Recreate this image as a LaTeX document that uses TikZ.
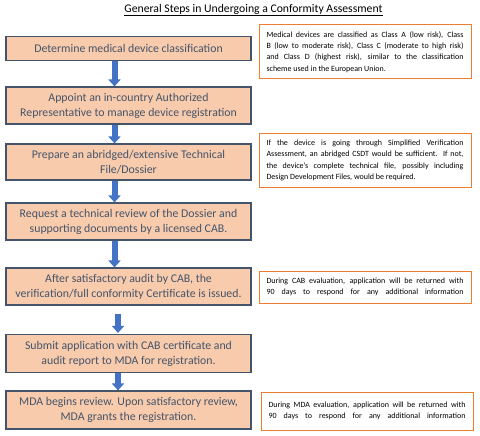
\documentclass[tikz,border=0pt]{standalone}
\usepackage{fontspec}
\setmainfont{Carlito}
\usetikzlibrary{arrows.meta}
\definecolor{peach}{HTML}{F8CBAD}
\definecolor{slate}{HTML}{44546A}
\definecolor{orng}{HTML}{ED7D31}
\definecolor{arrblue}{HTML}{4472C4}
\begin{document}
\begin{tikzpicture}[x=1pt,y=-1pt,
  stepbox/.style={draw=slate, line width=1.1pt, fill=peach, text=slate, minimum width=245pt, align=center, font=\fontsize{11.8}{15}\selectfont, inner sep=2pt},
  notebox/.style={draw=orng, line width=1pt, fill=white, text width=197pt, align=justify, font=\fontsize{8}{11.3}\selectfont, inner xsep=7pt, inner ysep=4pt, minimum width=212pt},
  flow/.style={draw=arrblue, line width=6pt, -{Triangle[width=12pt,length=7pt]}}]
\useasboundingbox (0,0) rectangle (480,436);
\node[font=\fontsize{11.7}{13}\selectfont] (title) at (253.5,10) {\underline{General Steps in Undergoing a Conformity Assessment}};
\node[stepbox, minimum height=24pt] (b1) at (128.5,48.5) {Determine medical device classification};
\node[stepbox, minimum height=37pt] (b2) at (128.5,105.5) {Appoint an in-country Authorized\\Representative to manage device registration};
\node[stepbox, minimum height=36pt] (b3) at (128.5,162) {Prepare an abridged/extensive Technical\\File/Dossier};
\node[stepbox, minimum height=37pt] (b4) at (128.5,221.5) {Request a technical review of the Dossier and\\supporting documents by a licensed CAB.};
\node[stepbox, minimum height=37pt] (b5) at (128.5,286.5) {After satisfactory audit by CAB, the\\verification/full conformity Certificate is issued.};
\node[stepbox, minimum height=38pt] (b6) at (128.5,353.5) {Submit application with CAB certificate and\\audit report to MDA for registration.};
\node[stepbox, minimum height=38pt] (b7) at (128.5,410) {MDA begins review. Upon satisfactory review,\\MDA grants the registration.};
\node[notebox, minimum height=54pt] (n1) at (365,52) {Medical devices are classified as Class A (low risk), Class\linebreak B (low to moderate risk), Class C (moderate to high risk)\linebreak and Class D (highest risk), similar to the classification\linebreak scheme used in the European Union.};
\node[notebox, minimum height=53pt] (n2) at (365,160.5) {If the device is going through Simplified Verification\linebreak Assessment, an abridged CSDT would be sufficient. If not,\linebreak the device's complete technical file, possibly including\linebreak Design Development Files, would be required.};
\node[notebox, minimum height=32pt] (n3) at (365,287) {During CAB evaluation, application will be returned with\linebreak 90\hfill days\hfill to\hfill respond\hfill for\hfill any\hfill additional\hfill information};
\node[notebox, minimum height=38pt] (n4) at (367,411) {During MDA evaluation, application will be returned with\linebreak 90\hfill days\hfill to\hfill respond\hfill for\hfill any\hfill additional\hfill information};
\draw[flow] ([xshift=-14pt]b1.south) -- ([xshift=-14pt]b2.north);
\draw[flow] ([xshift=-14pt]b2.south) -- ([xshift=-14pt]b3.north);
\draw[flow] ([xshift=-14pt]b3.south) -- ([xshift=-14pt]b4.north);
\draw[flow] ([xshift=-14pt]b4.south) -- ([xshift=-14pt]b5.north);
\draw[flow, shorten <=8pt, shorten >=1pt] ([xshift=-10.5pt]b5.south) -- ([xshift=-10.5pt]b6.north);
\draw[flow] ([xshift=-10.5pt]b6.south) -- ([xshift=-10.5pt]b7.north);
\end{tikzpicture}
\end{document}
